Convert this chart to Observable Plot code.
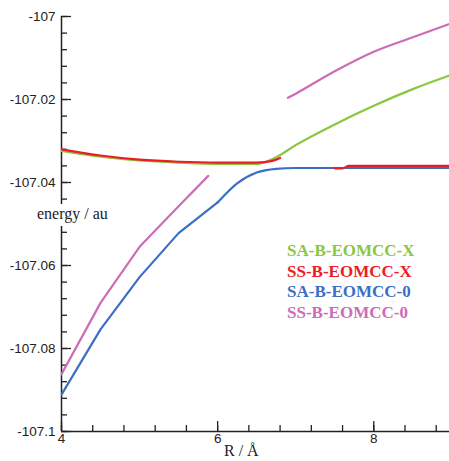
<!DOCTYPE html>
<html>
<head>
<meta charset="utf-8">
<script src="https://cdn.jsdelivr.net/npm/d3@7"></script>
<script src="https://cdn.jsdelivr.net/npm/@observablehq/plot@0.6"></script>
<style>
  html, body { margin: 0; padding: 0; background: #fff; }
  #wrap { position: relative; width: 449px; height: 461px; overflow: hidden; }
  .ylab { position: absolute; left: 36px; top: 204px; background: #fff; padding: 1px 1px 3px 1px;
          font-family: "Liberation Serif", "Times New Roman", serif; font-size: 16px; color: #222; line-height: 18px; }
  .xlab { position: absolute; left: 224px; top: 442px;
          font-family: "Liberation Serif", "Times New Roman", serif; font-size: 16px; color: #222; line-height: 18px; }
  .legend { position: absolute; left: 287px; top: 241px;
            font-family: "Liberation Serif", "Times New Roman", serif; font-weight: bold; font-size: 17px; line-height: 20.7px; }
</style>
</head>
<body>
<div id="wrap"></div>
<script>
// Series names and colours
const seriesNames = ["SA-B-EOMCC-X", "SS-B-EOMCC-X", "SA-B-EOMCC-0", "SS-B-EOMCC-0"];
const seriesColors = ["#8cc63f", "#ec1c24", "#3c6ec3", "#cc6cb8"];

// SA-B-EOMCC-X (green)
const saX_R = [4, 4.5, 5, 5.5, 6, 6.5, 6.75, 7, 7.5, 8, 8.5, 9];
const saX_E = [-107.0324, -107.0338, -107.0347, -107.0352, -107.0355, -107.0355, -107.0339, -107.0310, -107.0260, -107.0215, -107.0175, -107.0140];

// SS-B-EOMCC-X (red), two pieces
const ssX1_R = [4, 4.5, 5, 5.5, 6, 6.5, 6.7, 6.8];
const ssX1_E = [-107.0320, -107.0335, -107.0345, -107.0350, -107.0352, -107.0352, -107.0348, -107.0341];
const ssX2_R = [7.5, 7.6, 7.68, 8, 8.5, 9];
const ssX2_E = [-107.0366, -107.0366, -107.0360, -107.0360, -107.0360, -107.0360];

// SA-B-EOMCC-0 (blue): steep part and plateau part
const sa0a_R = [4, 4.5, 5, 5.5, 6];
const sa0a_E = [-107.0911, -107.0754, -107.0628, -107.0522, -107.0448];
const sa0b_R = [6, 6.25, 6.5, 6.75, 7, 7.5, 8, 8.5, 9];
const sa0b_E = [-107.0448, -107.0402, -107.0376, -107.0367, -107.0365, -107.0365, -107.0365, -107.0365, -107.0365];

// SS-B-EOMCC-0 (pink), two pieces
const ss01_R = [4, 4.5, 5, 5.5, 5.88];
const ss01_E = [-107.0862, -107.0690, -107.0555, -107.0457, -107.0384];
const ss02_R = [6.9, 7, 7.5, 8, 8.5, 9];
const ss02_E = [-107.0196, -107.0186, -107.0132, -107.0085, -107.0050, -107.0016];

// Axis ticks
const yMajor = [-107.1, -107.08, -107.06, -107.04, -107.02, -107];
const yMinor = d3.range(0, 26).map(i => -107.1 + i * 0.004);
const xMajor = [4, 6, 8];
const xMinor = d3.range(0, 13).map(i => 4 + i * 0.4);

function pts(R, E, k, piece) { return R.map((r, i) => ({R: r, E: E[i], s: seriesNames[k], piece})); }
const steep = [
  ...pts(sa0a_R, sa0a_E, 2, "a"),
  ...pts(ss01_R, ss01_E, 3, "a")
];
const smooth = [
  ...pts(sa0b_R, sa0b_E, 2, "b"),
  ...pts(ss02_R, ss02_E, 3, "b"),
  ...pts(saX_R, saX_E, 0, "a"),
  ...pts(ssX1_R, ssX1_E, 1, "a"), ...pts(ssX2_R, ssX2_E, 1, "b")
];

const fmt = d => String(+d.toFixed(3)).replace("\u2212", "-");
const axisFont = {fontFamily: "'Liberation Sans', Arial, sans-serif", fontSize: "13.5px"};

const chart = Plot.plot({
  width: 449,
  height: 461,
  marginLeft: 61,
  marginRight: 0,
  marginTop: 16,
  marginBottom: 30,
  style: {background: "#fff", color: "#222", ...axisFont},
  x: {domain: [4, 8.97], axis: null, label: null},
  y: {domain: [-107.1, -107], axis: null, label: null},
  color: {domain: seriesNames, range: seriesColors},
  marks: [
    Plot.axisY(yMinor, {tickSize: -6, text: null, label: null, stroke: "#222", strokeWidth: 1.3}),
    Plot.axisY(yMajor, {tickSize: -10, tickPadding: 16, tickFormat: fmt, label: null, stroke: "#222", strokeWidth: 1.3, fill: "#222", fontSize: 13.5}),
    Plot.axisX(xMinor, {tickSize: -6, text: null, label: null, stroke: "#222", strokeWidth: 1.3}),
    Plot.axisX(xMajor, {tickSize: -10, tickPadding: 12, tickFormat: d => String(d), label: null, stroke: "#222", strokeWidth: 1.3, fill: "#222", fontSize: 13.5}),
    Plot.ruleX([4], {stroke: "#222", strokeWidth: 1.5}),
    Plot.ruleY([-107.1], {stroke: "#222", strokeWidth: 1.5}),
    Plot.line(steep, {x: "R", y: "E", z: d => d.s + d.piece, stroke: "s", strokeWidth: 2.2, curve: "linear", strokeLinejoin: "round", clip: true}),
    Plot.line(smooth, {x: "R", y: "E", z: d => d.s + d.piece, stroke: "s", strokeWidth: 2.2, curve: "monotone-x", clip: true})
  ]
});

const wrap = document.getElementById("wrap");
wrap.appendChild(chart);

const yl = document.createElement("div");
yl.className = "ylab"; yl.textContent = "energy / au";
wrap.appendChild(yl);

const xl = document.createElement("div");
xl.className = "xlab"; xl.textContent = "R / Å";
wrap.appendChild(xl);

const lg = document.createElement("div");
lg.className = "legend";
seriesNames.forEach((n, i) => {
  const r = document.createElement("div");
  r.textContent = n; r.style.color = seriesColors[i];
  lg.appendChild(r);
});
wrap.appendChild(lg);
</script>
</body>
</html>
